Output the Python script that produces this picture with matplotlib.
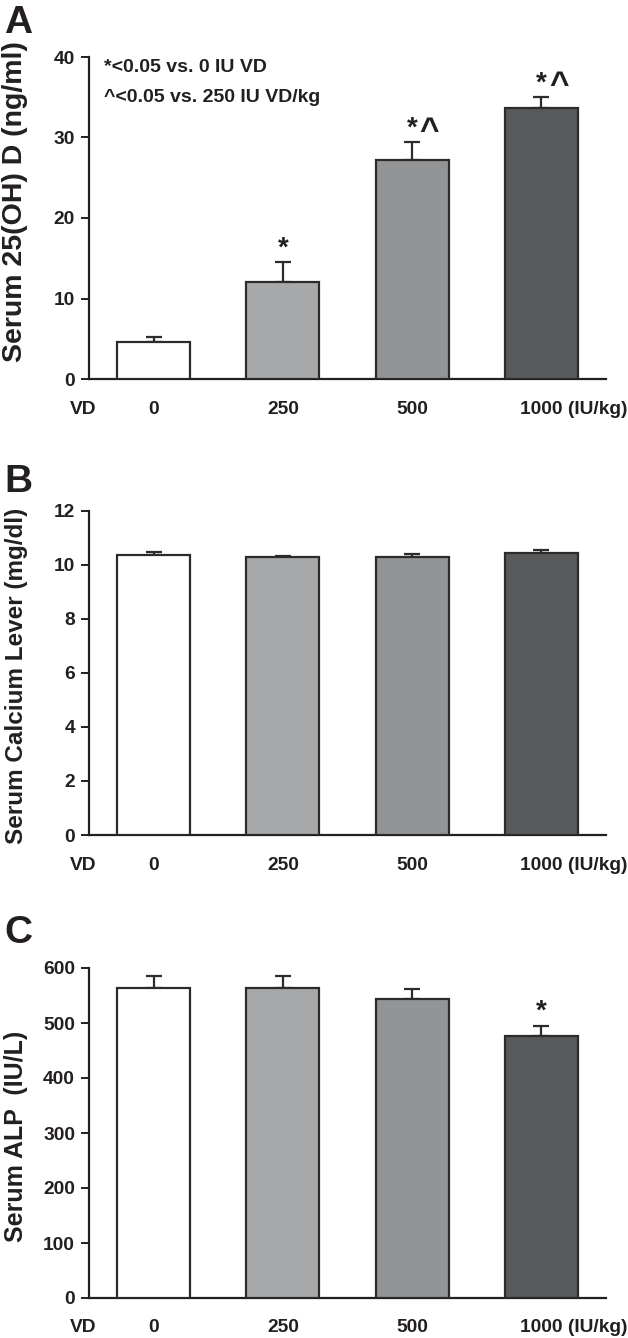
import matplotlib
matplotlib.use("Agg")
import matplotlib.pyplot as plt
import matplotlib.transforms as mtransforms
import numpy as np

plt.rcParams['font.family'] = ['Liberation Sans', 'DejaVu Sans']
plt.rcParams['font.weight'] = 'bold'

categories = ['0', '250', '500', '1000']
unit_label = ' (IU/kg)'
bar_colors = ['#ffffff', '#a7a8aa', '#939496', '#58595b']

vd_mean = [4.6, 12.0, 27.2, 33.7]
vd_err = [0.6, 2.5, 2.2, 1.3]
vd_marks = ['', '*', '*^', '*^']

ca_mean = [10.37, 10.31, 10.31, 10.44]
ca_err = [0.11, 0.04, 0.10, 0.11]

alp_mean = [564, 564, 543, 477]
alp_err = [21, 21, 18, 18]
alp_marks = ['', '', '', '*']

W, H = 628, 1338
fig = plt.figure(figsize=(W / 100, H / 100), dpi=100)

edge = '#2b2b2b'
axcol = '#231f20'
TICK_FS = 13.8


def make_ax(top_px, bottom_px):
    left, right = 89, 606
    return fig.add_axes([left / W, 1 - bottom_px / H, (right - left) / W, (bottom_px - top_px) / H])


def draw_panel(ax, means, errs, ylim, yticks, ylabel, label_fs, label_y, marks=None):
    x = np.arange(len(categories))
    ax.bar(x, means, width=0.565, color=bar_colors, edgecolor=edge, linewidth=1.6, zorder=3)
    ax.errorbar(x, means, yerr=[np.zeros(len(errs)), errs], fmt='none', ecolor=edge,
                elinewidth=1.6, capsize=5.5, capthick=1.6, zorder=2)
    ax.set_xlim(-0.5, 3.5)
    ax.set_ylim(*ylim)
    ax.set_yticks(yticks)
    ax.set_yticklabels([str(t) for t in yticks], fontsize=TICK_FS, fontweight='bold', color=axcol)
    ax.tick_params(axis='y', direction='out', length=6, width=1.4, color=axcol, pad=4)
    ax.set_xticks([])
    for s in ['top', 'right']:
        ax.spines[s].set_visible(False)
    for s in ['left', 'bottom']:
        ax.spines[s].set_linewidth(1.6)
        ax.spines[s].set_color(axcol)
    ax.set_ylabel(ylabel, fontsize=label_fs, fontweight='bold', color=axcol)
    ax.yaxis.set_label_coords(-0.118, label_y)
    # x labels
    off = mtransforms.ScaledTranslation(0, -30 / 100, fig.dpi_scale_trans)
    tr = mtransforms.blended_transform_factory(ax.transData, ax.transAxes) + off
    for i, c in enumerate(categories):
        if i == len(categories) - 1:
            t2 = tr + mtransforms.ScaledTranslation(-21 / 100, 0, fig.dpi_scale_trans)
            ax.text(i, 0, c + unit_label, transform=t2, ha='left', va='center',
                    fontsize=TICK_FS, fontweight='bold', color=axcol)
        else:
            ax.text(i, 0, c, transform=tr, ha='center', va='center',
                    fontsize=TICK_FS, fontweight='bold', color=axcol)
    ax.text(-0.44, 0, 'VD', transform=tr, ha='right', va='center',
            fontsize=TICK_FS, fontweight='bold', color=axcol)
    if marks:
        for i, m in enumerate(marks):
            if not m:
                continue
            y = means[i] + errs[i]
            ax.annotate('*', (i, y), xytext=(0, 5), textcoords='offset points',
                        ha='center', va='baseline', fontsize=20, fontweight='bold', color=axcol)
            if '^' in m:
                ax.annotate('^', (i, y), xytext=(5.5, 2), textcoords='offset points',
                            ha='left', va='baseline', fontsize=24, fontweight='bold', color=axcol)


axA = make_ax(57, 379)
draw_panel(axA, vd_mean, vd_err, (0, 40), [0, 10, 20, 30, 40], 'Serum 25(OH) D (ng/ml)', 20.5, 0.55, vd_marks)
axA.text(104 / W, 1 - 67 / H, '*<0.05 vs. 0 IU VD', transform=fig.transFigure, ha='left', va='center',
         fontsize=14, fontweight='bold', color=axcol)
axA.text(104 / W, 1 - 98 / H, '^<0.05 vs. 250 IU VD/kg', transform=fig.transFigure, ha='left', va='center',
         fontsize=14, fontweight='bold', color=axcol)

axB = make_ax(511, 835)
draw_panel(axB, ca_mean, ca_err, (0, 12), [0, 2, 4, 6, 8, 10, 12], 'Serum Calcium Lever (mg/dl)', 17.5, 0.49)

axC = make_ax(968, 1298)
draw_panel(axC, alp_mean, alp_err, (0, 600), [0, 100, 200, 300, 400, 500, 600], 'Serum ALP  (IU/L)', 18, 0.49,
           alp_marks)

for letter, ypx in [('A', 33), ('B', 492), ('C', 943)]:
    fig.text(4 / W, 1 - ypx / H, letter, ha='left', va='baseline', fontsize=28, fontweight='bold', color=axcol)

fig.savefig('out.png', dpi=100)
